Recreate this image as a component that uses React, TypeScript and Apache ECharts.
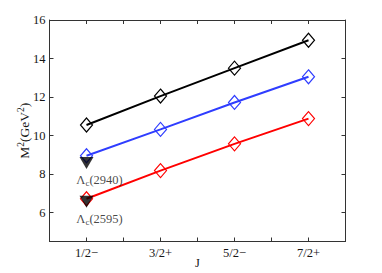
import React, { useEffect, useRef } from "react";
import * as echarts from "echarts";

const categories = ["1/2−", "3/2+", "5/2−", "7/2+"];
const blackSeries = [10.55, 12.05, 13.5, 14.95];
const blueSeries = [8.95, 10.32, 11.72, 13.05];
const redSeries = [6.72, 8.18, 9.57, 10.88];
const expValues = [8.58, 6.57];
const expLabels = ["2940", "2595"];
const yTicks = [6, 8, 10, 12, 14, 16];

const FONT = "Liberation Serif";
const TEXT = "#161616";

export default function App() {
  const ref = useRef<HTMLDivElement>(null);
  useEffect(() => {
    if (!ref.current) return;
    const chart = echarts.init(ref.current, undefined, { renderer: "svg" });
    const lineSeries = (data: number[], color: string) => ({
      type: "line",
      data: data.map((v, i) => [i + 1, v]),
      symbol: "diamond",
      symbolSize: [12, 14],
      lineStyle: { color, width: 2 },
      itemStyle: { color: "transparent", borderColor: color, borderWidth: 1.2 },
      z: 2,
    });
    const axisCommon = {
      axisLine: { show: true, lineStyle: { color: "#333", width: 1 } },
      splitLine: { show: false },
    };
    chart.setOption({
      animation: false,
      backgroundColor: "#fff",
      grid: {
        left: 49.5,
        right: 36.5,
        top: 20,
        bottom: 31.5,
        containLabel: false,
        outerBoundsMode: "none",
      },
      xAxis: [
        {
          type: "value",
          min: 0.5,
          max: 4.5,
          interval: 0.5,
          position: "bottom",
          ...axisCommon,
          axisTick: { show: true, inside: true, length: 4, lineStyle: { color: "#333" } },
          axisLabel: {
            margin: 5,
            color: TEXT,
            fontFamily: FONT,
            fontSize: 12.5,
            formatter: (v: number) => (Number.isInteger(v) && v >= 1 && v <= 4 ? categories[v - 1] : ""),
            showMinLabel: false,
            showMaxLabel: false,
          },
          name: "J",
          nameLocation: "middle",
          nameGap: 15,
          nameMoveOverlap: false,
          nameTextStyle: { color: TEXT, fontFamily: FONT, fontSize: 12.5 },
        },
        {
          type: "value",
          min: 0.5,
          max: 4.5,
          interval: 0.5,
          position: "top",
          ...axisCommon,
          axisTick: { show: true, inside: true, length: 4, lineStyle: { color: "#333" } },
          axisLabel: { show: false },
        },
      ],
      yAxis: [
        {
          type: "value",
          min: 4.5,
          max: 16,
          position: "left",
          ...axisCommon,
          axisTick: { show: true, inside: true, length: 4, customValues: yTicks, lineStyle: { color: "#333" } },
          axisLabel: { customValues: yTicks, margin: 4, color: TEXT, fontFamily: FONT, fontSize: 12.5 },
          name: "{a|M}{s|2}{a|(GeV}{s|2}{a|)}",
          nameLocation: "middle",
          nameGap: 17,
          nameMoveOverlap: false,
          nameRotate: 90,
          nameTextStyle: {
            color: TEXT,
            fontFamily: FONT,
            fontSize: 13.5,
            rich: {
              a: { fontFamily: FONT, fontSize: 13.5, color: TEXT },
              s: { fontFamily: FONT, fontSize: 9.5, color: TEXT, padding: [0, 0, 7, 0] },
            },
          },
        },
        {
          type: "value",
          min: 4.5,
          max: 16,
          position: "right",
          ...axisCommon,
          axisTick: { show: true, inside: true, length: 4, customValues: yTicks, lineStyle: { color: "#333" } },
          axisLabel: { show: false },
        },
      ],
      series: [
        lineSeries(blackSeries, "#000000"),
        lineSeries(blueSeries, "#2f3dff"),
        lineSeries(redSeries, "#ff0000"),
        {
          type: "scatter",
          data: expValues.map((v, i) => ({
            value: [1, v],
            label: {
              show: true,
              position: "bottom",
              distance: 3,
              offset: [13, 0],
              formatter: `{a|Λ}{s|c}{a|(${expLabels[i]})}`,
              rich: {
                a: { fontFamily: FONT, fontSize: 12.5, color: TEXT },
                s: { fontFamily: FONT, fontSize: 9, color: TEXT, padding: [7, 0, 0, 0] },
              },
            },
          })),
          symbol: "triangle",
          symbolRotate: 180,
          symbolSize: [14, 12],
          itemStyle: { color: "#000" },
          z: 3,
        },
      ],
    });
    return () => chart.dispose();
  }, []);
  return <div ref={ref} style={{ position: "fixed", left: 0, top: 0, width: 382, height: 273 }} />;
}
